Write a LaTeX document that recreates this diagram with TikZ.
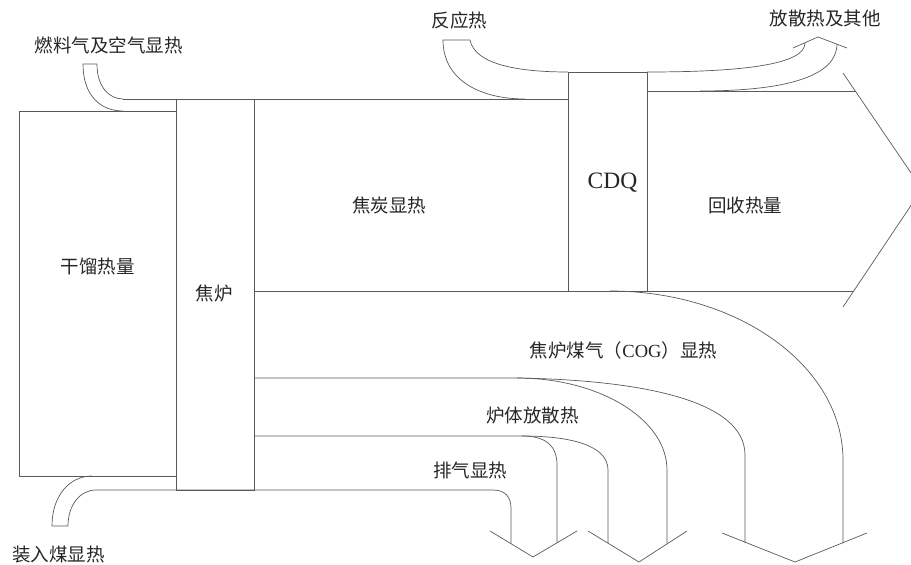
\documentclass[tikz,border=0pt]{standalone}
\usepackage{fontspec}
\setmainfont{Liberation Serif}
\newfontfamily\cjk{Noto Sans CJK SC}
\begin{document}
\begin{tikzpicture}[x=1pt,y=-1pt,
  ln/.style={draw=black!65, line width=0.7pt, line join=round},
  lbl/.style={font=\cjk\fontsize{18.5}{20}\selectfont, inner sep=0pt, text=black!85},
  lat/.style={font=\fontsize{23.5}{25}\selectfont, inner sep=0pt, text=black!85}]
\useasboundingbox (0,0) rectangle (911,565);
\clip (0,0) rectangle (911,565);
% main boxes
\draw[ln] (19,111) rectangle (176,476);
\draw[ln] (176,99) rectangle (254,490);
% fuel gas pipe
\draw[ln] (123,111) .. controls (100,111) and (83,95) .. (83,64) -- (97,64) .. controls (97,88) and (110,99) .. (123,99);
\draw[ln] (123,99) -- (568,99);
% charged coal pipe and exhaust flow inner edge
\draw[ln] (92,476) .. controls (70,476) and (52,495) .. (52,526) -- (68,526) .. controls (68,505) and (80,490) .. (96,490) -- (493,490) .. controls (505,490) and (511,497) .. (511,508) -- (511,543);
% reaction heat pipe
\draw[ln] (525,99) .. controls (480,99) and (443,80) .. (443,40) -- (470,40) .. controls (475,65) and (520,72) .. (568,72);
% CDQ
\draw[ln] (568,72) rectangle (647,291);
% dissipation and others
\draw[ln] (647,72) .. controls (740,72) and (805,65) .. (805,43);
\draw[ln] (700,91) .. controls (790,91) and (837,75) .. (837,44);
\draw[ln] (793,48) -- (818,37) -- (847,48);
% recovered heat arrow
\draw[ln] (647,91) -- (856,91);
\draw[ln] (254,291) -- (853,291);
\draw[ln] (843,73) -- (922,189) -- (843,307);
% COG flow
\draw[ln] (610,291) .. controls (738,291) and (843,366) .. (843,460) -- (843,543);
\draw[ln] (254,378) -- (517,378) .. controls (640,380) and (745,400) .. (745,455) -- (745,543);
% furnace body dissipation
\draw[ln] (517,378) .. controls (599,378) and (667,419) .. (667,470) -- (667,543);
\draw[ln] (254,436) -- (522,436) .. controls (570,436) and (608,445) .. (608,470) -- (608,543);
% exhaust
\draw[ln] (522,436) .. controls (545,436) and (557,445) .. (557,465) -- (557,543);
% arrow heads
\draw[ln] (490,531) -- (533,557) -- (577,531);
\draw[ln] (588,531) -- (639,562) -- (687,531);
\draw[ln] (722,533) -- (795,562) -- (867,533);
% labels
\node[lbl] (gl) at (97.5,266) {干馏热量};
\node[lbl] (jl) at (214,293) {焦炉};
\node[lbl] (jt) at (389,205) {焦炭显热};
\node[lat] (cdq) at (612.5,183) {CDQ};
\node[lbl] (hs) at (745,205) {回收热量};
\node[lbl] (cog) at (623.5,350) {焦炉煤气（{\fontspec{Liberation Serif}COG}）显热};
\node[lbl] (lt) at (532.5,415) {炉体放散热};
\node[lbl] (pq) at (470,470) {排气显热};
\node[lbl] (rl) at (108.5,45) {燃料气及空气显热};
\node[lbl] (zr) at (58.5,555) {装入煤显热};
\node[lbl] (fy) at (459.5,20) {反应热};
\node[lbl] (fs) at (825,18) {放散热及其他};
\end{tikzpicture}
\end{document}
